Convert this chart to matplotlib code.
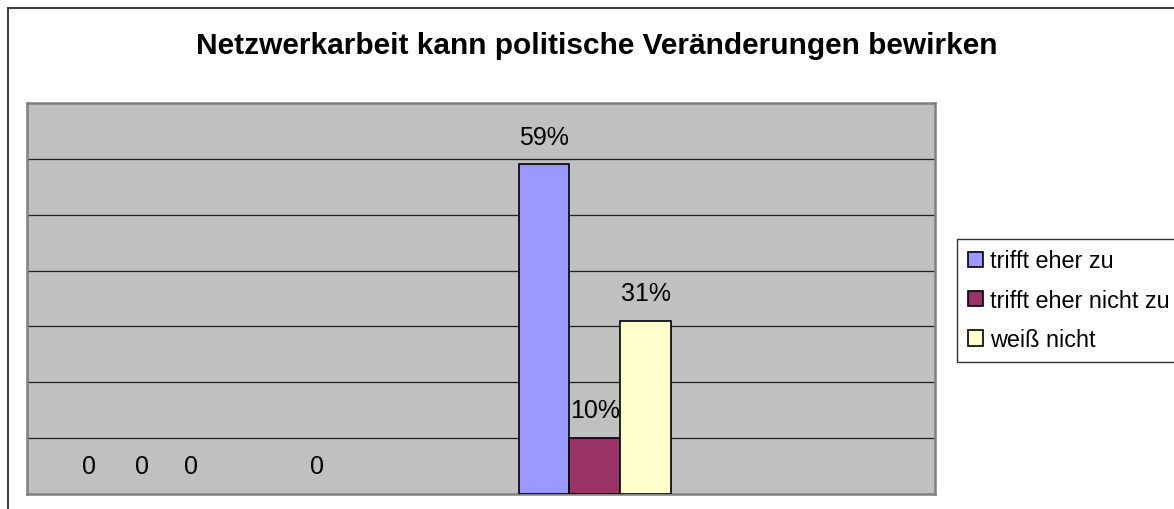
import matplotlib
matplotlib.use("Agg")
import matplotlib.pyplot as plt
from matplotlib.patches import Patch, Rectangle

plt.rcParams['font.family'] = ['Liberation Sans', 'DejaVu Sans']

title = "Netzwerkarbeit kann politische Veränderungen bewirken"

# answered series (one bar each)
series_labels = ["trifft eher zu", "trifft eher nicht zu", "weiß nicht"]
series_values = [59, 10, 31]
series_colors = ["#9999FF", "#993366", "#FFFFCC"]
series_pos = [10.2, 11.2, 12.2]

# empty series that only show a "0" label
zero_values = [0, 0, 0, 0]
zero_pos = [1.22, 2.27, 3.23, 5.72]

W, H = 1174, 510
fig = plt.figure(figsize=(W / 100, H / 100), dpi=100)
fig.patch.set_facecolor("white")

# chart area border (cut off on right and bottom)
fig.add_artist(Rectangle((8 / W, -0.2), 1.2, 0.2 + (H - 9) / H,
                         transform=fig.transFigure, fill=False,
                         edgecolor="#404040", lw=1.5))

ax = fig.add_axes([27 / W, 15 / H, 908 / W, 391 / H])
ax.set_facecolor("#C0C0C0")
ax.set_xlim(0, 908 / 50.7)
ax.set_ylim(0, 70)
for y in range(10, 70, 10):
    ax.axhline(y, color="#202020", lw=0.9, zorder=1)
for s in ax.spines.values():
    s.set_color("#808080")
    s.set_linewidth(1.8)
ax.set_xticks([])
ax.set_yticks([])

bars = ax.bar(series_pos, series_values, width=1.0, color=series_colors,
              edgecolor="black", linewidth=1.2, zorder=3)
for x, v in zip(series_pos, series_values):
    ax.annotate(f"{v}%", (x, v), xytext=(0, 20), textcoords="offset points",
                ha="center", va="center", fontsize=18, zorder=4)
for x, v in zip(zero_pos, zero_values):
    ax.annotate(f"{v}", (x, v), xytext=(0, 20), textcoords="offset points",
                ha="center", va="center", fontsize=18, zorder=4)

fig.text(597 / W, 1 - 46 / H, title, ha="center", va="center",
         fontsize=21.5, fontweight="bold")

handles = [Patch(facecolor=c, edgecolor="black", linewidth=1.2) for c in series_colors]
leg = fig.legend(handles, series_labels, loc="upper left",
                 bbox_to_anchor=(957 / W, 1 - 240 / H), borderaxespad=0,
                 fontsize=16.8, frameon=True, fancybox=False,
                 handlelength=0.65, handleheight=0.65, handletextpad=0.3,
                 borderpad=0.45, labelspacing=0.7)
leg.get_frame().set_edgecolor("black")
leg.get_frame().set_linewidth(1.0)

fig.savefig("out.png", dpi=100)
